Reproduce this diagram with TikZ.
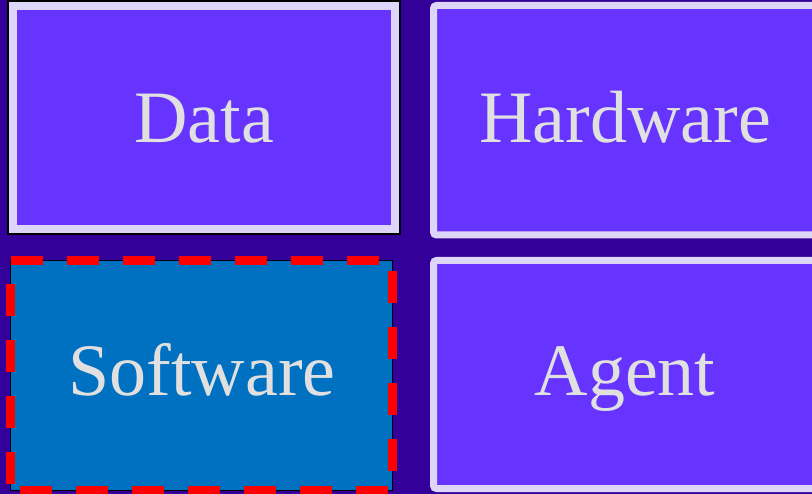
\documentclass[tikz,border=0pt]{standalone}
\usepackage{fontspec}
\setmainfont{Liberation Serif}
\definecolor{bgpurple}{HTML}{330099}
\definecolor{boxpurple}{HTML}{6633FF}
\definecolor{lavender}{HTML}{DED6F8}
\definecolor{labelgray}{HTML}{E0E0E0}
\definecolor{swblue}{HTML}{0070C0}
\tikzset{
  lbl/.style={text=labelgray, font=\fontsize{74}{80}\selectfont, anchor=base, inner sep=0pt},
  purplebox/.style={fill=boxpurple, draw=lavender, line width=7pt, rounded corners=3pt},
}
\begin{document}
\begin{tikzpicture}[x=1pt,y=-1pt]
\useasboundingbox (0,0) rectangle (812,494);
\fill[bgpurple] (0,0) rectangle (812,494);
% Data
\draw[black, line width=12pt] (13,6) rectangle (395,229);
\draw[fill=boxpurple, draw=lavender, line width=8pt] (13,6) rectangle (395,229);
\coordinate (dataC) at (204,143);
\node[lbl] (data) at (dataC) {Data};
% Hardware
\draw[purplebox] (433.5,5.5) rectangle (816.5,235);
\coordinate (hwC) at (625,143);
\node[lbl] (hw) at (hwC) {Hardware};
% Software
\fill[swblue] (10.5,260.5) rectangle (392.5,490.5);
\draw[black, line width=1.5pt] (10.5,260.5) rectangle (392.5,490.5);
\draw[red, line width=9pt, dash pattern=on 32pt off 24pt, dash phase=46.5pt]
  (10.5,490.5) -- (392.5,490.5) -- (392.5,260.5) -- (10.5,260.5) -- cycle;
\coordinate (swC) at (202,396);
\node[lbl] (sw) at (swC) {Software};
% Agent
\draw[purplebox] (433.5,260.5) rectangle (816.5,488.5);
\coordinate (agC) at (625,396);
\node[lbl] (ag) at (agC) {Agent};
\end{tikzpicture}
\end{document}
